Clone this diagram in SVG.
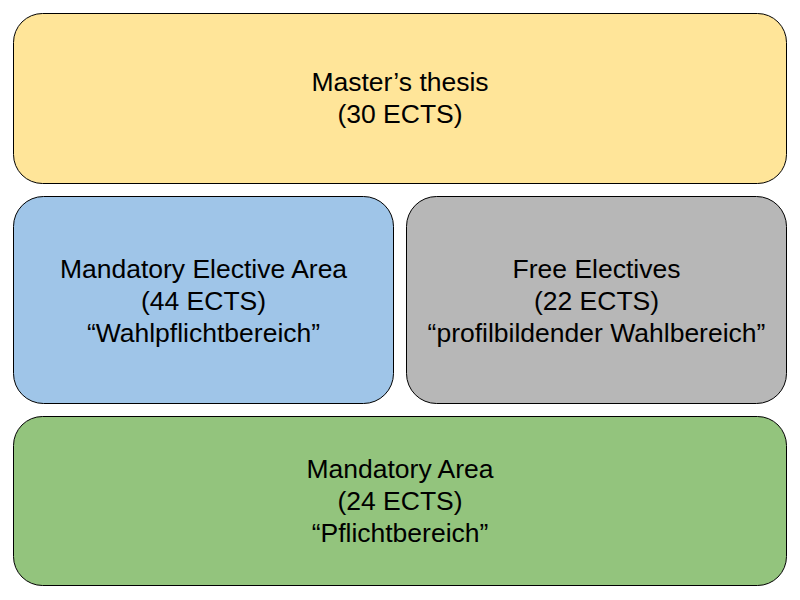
<svg xmlns="http://www.w3.org/2000/svg" width="800" height="600" viewBox="0 0 800 600">
<style>
.box{stroke:#000;stroke-width:1}
.t{font-family:"Liberation Sans",Arial,sans-serif;font-size:26.5px;fill:#000;text-anchor:middle}
</style>
<rect width="800" height="600" fill="#fff"/>
<g id="thesis">
<rect class="box" x="13.5" y="13.5" width="773" height="170" rx="29" fill="#FFE599"/>
<text class="t" x="400" y="91">Master’s thesis</text>
<text class="t" x="400" y="123">(30 ECTS)</text>
</g>
<g id="elective">
<rect class="box" x="13.5" y="196.5" width="380" height="207" rx="30" fill="#9FC5E8"/>
<text class="t" x="203.5" y="278">Mandatory Elective Area</text>
<text class="t" x="203.5" y="310">(44 ECTS)</text>
<text class="t" x="203.5" y="342">“Wahlpflichtbereich”</text>
</g>
<g id="free">
<rect class="box" x="406.5" y="196.5" width="380" height="207" rx="30" fill="#B7B7B7"/>
<text class="t" x="596.5" y="278">Free Electives</text>
<text class="t" x="596.5" y="310">(22 ECTS)</text>
<text class="t" x="596.5" y="342">“profilbildender Wahlbereich”</text>
</g>
<g id="mandatory">
<rect class="box" x="13.5" y="416.5" width="773" height="169" rx="29" fill="#93C47D"/>
<text class="t" x="400" y="478">Mandatory Area</text>
<text class="t" x="400" y="510">(24 ECTS)</text>
<text class="t" x="400" y="542">“Pflichtbereich”</text>
</g>
<g id="connectors"/>
</svg>
